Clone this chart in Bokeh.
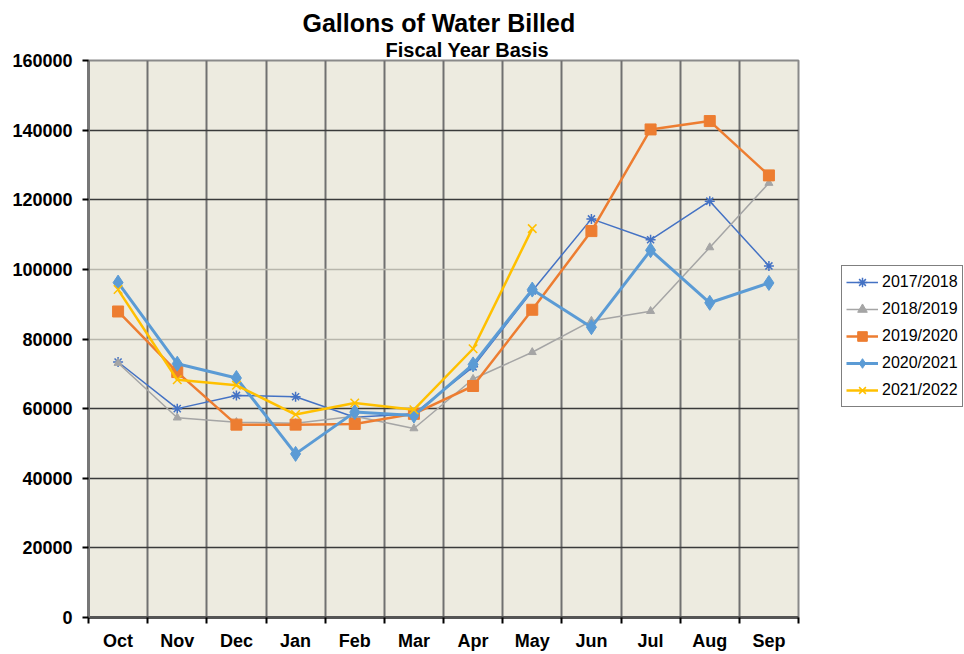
from bokeh.plotting import figure
from bokeh.models import (FixedTicker, NumeralTickFormatter, Legend, LegendItem,
                          Title, Grid, Range1d, ColumnDataSource)
from bokeh.embed import file_html
from bokeh.resources import INLINE

months = ["Oct", "Nov", "Dec", "Jan", "Feb", "Mar", "Apr", "May", "Jun", "Jul", "Aug", "Sep"]
y_ticks = [0, 20000, 40000, 60000, 80000, 100000, 120000, 140000, 160000]

fy_2017_2018 = [73400, 60000, 63800, 63400, 57500, 58500, 72000, 93800, 114500, 108500, 119600, 101000]
fy_2018_2019 = [73100, 57400, 56100, 55800, 57800, 54300, 68500, 76200, 85200, 88000, 106300, 124800]
fy_2019_2020 = [87900, 70500, 55400, 55400, 55600, 58500, 66500, 88400, 111000, 140200, 142600, 127000]
fy_2020_2021 = [96200, 72900, 68800, 47000, 59000, 58000, 72700, 94200, 83400, 105500, 90400, 96100]
fy_2021_2022 = [94200, 68300, 66700, 58300, 61600, 59700, 77200, 111700]

series = [
    ("2017/2018", fy_2017_2018, "#4472C4", 1.5, "asterisk", 10),
    ("2018/2019", fy_2018_2019, "#A5A5A5", 1.5, "triangle", 8),
    ("2019/2020", fy_2019_2020, "#ED7D31", 2.5, "square", 11),
    ("2020/2021", fy_2020_2021, "#5B9BD5", 3.0, "diamond", 15),
    ("2021/2022", fy_2021_2022, "#FFC000", 2.5, "x", 12),
]

FONT = "Liberation Sans"

p = figure(frame_width=710, frame_height=557, output_backend="svg", toolbar_location=None,
           x_range=Range1d(0, len(months)), y_range=Range1d(y_ticks[0], y_ticks[-1]),
           min_border_left=88, min_border_right=160, min_border_top=60, min_border_bottom=30,
           background_fill_color="#EDEBE0", border_fill_color="white")

p.outline_line_color = "#8a8a8a"
p.outline_line_width = 2

# titles (subtitle added first: closest to frame)
sub = Title(text="Fiscal Year Basis", align="left", offset=297, text_font=FONT,
            text_font_size="20px", text_font_style="bold", text_color="black", standoff=0)
main = Title(text="Gallons of Water Billed", align="left", offset=214, text_font=FONT,
             text_font_size="25px", text_font_style="bold", text_color="black", standoff=0)
p.add_layout(sub, "above")
p.add_layout(main, "above")

centers = [i + 0.5 for i in range(len(months))]
bounds = list(range(len(months) + 1))

# x axis
p.xaxis.ticker = FixedTicker(ticks=centers, minor_ticks=bounds)
p.xaxis.major_label_overrides = {c: m for c, m in zip(centers, months)}
p.xaxis.major_tick_line_color = None
p.xaxis.major_tick_out = 0
p.xaxis.major_tick_in = 0
p.xaxis.minor_tick_line_color = "black"
p.xaxis.minor_tick_line_width = 2
p.xaxis.minor_tick_out = 6
p.xaxis.minor_tick_in = 0
p.xaxis.axis_line_color = "#555555"
p.xaxis.axis_line_width = 3
p.xaxis.major_label_text_font = FONT
p.xaxis.major_label_text_font_size = "18px"
p.xaxis.major_label_text_font_style = "bold"
p.xaxis.major_label_text_color = "black"
p.xaxis.major_label_standoff = 7

# y axis
p.yaxis.ticker = FixedTicker(ticks=y_ticks)
p.yaxis.formatter = NumeralTickFormatter(format="0")
p.yaxis.minor_tick_line_color = None
p.yaxis.major_tick_line_color = "black"
p.yaxis.major_tick_line_width = 2
p.yaxis.major_tick_out = 6
p.yaxis.major_tick_in = 0
p.yaxis.axis_line_color = "#777777"
p.yaxis.axis_line_width = 3
p.yaxis.major_label_text_font = FONT
p.yaxis.major_label_text_font_size = "18px"
p.yaxis.major_label_text_font_style = "bold"
p.yaxis.major_label_text_color = "black"
p.yaxis.major_label_standoff = 10

# grids
p.xgrid.ticker = FixedTicker(ticks=bounds)
p.xgrid.grid_line_color = "#707070"
p.xgrid.grid_line_width = 2
p.ygrid.ticker = FixedTicker(ticks=[t for t in y_ticks if t not in (80000, 100000)])
p.ygrid.grid_line_color = "#3a3a3a"
p.ygrid.grid_line_width = 1.5
light = Grid(dimension=1, ticker=FixedTicker(ticks=[80000, 100000]),
             grid_line_color="#b8b6ac", grid_line_width=1.5)
p.add_layout(light)

items = []
for label, vals, color, lw, marker, size in series:
    src = ColumnDataSource(dict(x=centers[:len(vals)], y=vals))
    r1 = p.line("x", "y", source=src, line_color=color, line_width=lw)
    r2 = p.scatter("x", "y", source=src, marker=marker, size=size,
                   fill_color=color, line_color=color, line_width=1.5 if marker in ("asterisk", "x") else 1)
    items.append(LegendItem(label=label, renderers=[r1, r2]))

legend = Legend(items=items, location=(43, 210), margin=0, padding=4, spacing=3,
                glyph_width=32, glyph_height=24, label_height=24, label_standoff=4,
                label_text_font=FONT, label_text_font_size="16px", label_text_color="black",
                border_line_color="black", border_line_width=1.5,
                background_fill_color="white", background_fill_alpha=1)
p.add_layout(legend, "right")

open("out.html", "w").write(file_html(p, INLINE))
